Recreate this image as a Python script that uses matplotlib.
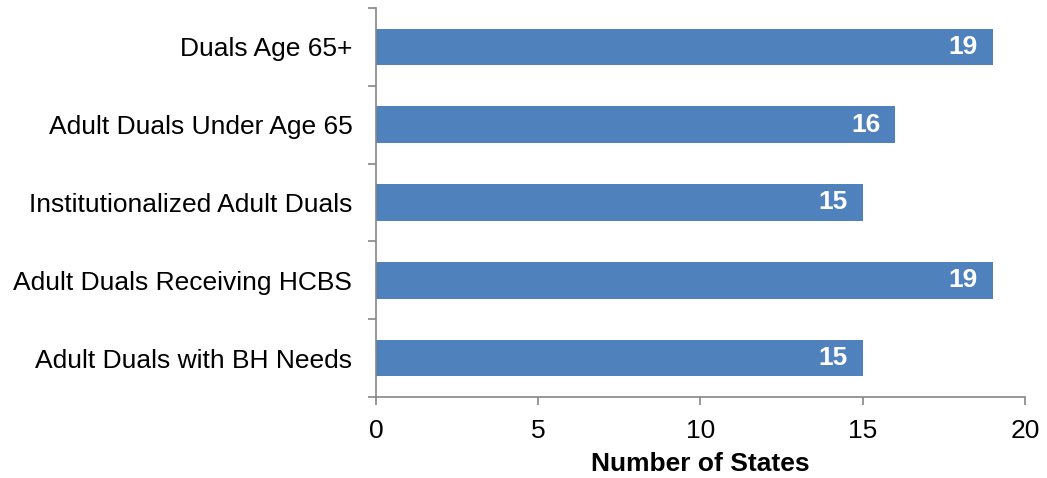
import numpy as np
import matplotlib
matplotlib.use("Agg")
import matplotlib.pyplot as plt

categories = ["Duals Age 65+", "Adult Duals Under Age 65", "Institutionalized Adult Duals",
              "Adult Duals Receiving HCBS", "Adult Duals with BH Needs"]
values = [19, 16, 15, 19, 15]

plt.rcParams['font.family'] = ['Liberation Sans', 'DejaVu Sans']

fig = plt.figure(figsize=(10.47, 4.78), dpi=100)
ax = fig.add_axes([0.359, 0.1695, 0.62, 0.814])

y = np.arange(len(categories))[::-1]
ax.barh(y, values, height=0.47, color='#4F81BD')
for yi, v in zip(y, values):
    ax.text(v - 0.45, yi, str(v), ha='right', va='center', color='white',
            fontsize=19, fontweight='bold')

ax.set_xlim(0, 20)
ax.set_ylim(-0.5, len(categories) - 0.5)
ax.set_xticks([0, 5, 10, 15, 20])
ax.set_yticks(y)
ax.set_yticklabels(categories)
ax.set_yticks(np.arange(-0.5, len(categories)), minor=True)
ax.tick_params(axis='y', which='major', length=0, pad=17, labelsize=19)
ax.tick_params(axis='y', which='minor', length=6, color='#868686', width=1.2)
ax.tick_params(axis='x', length=6, color='#868686', width=1.2, labelsize=19, pad=10)
for s in ['top', 'right']:
    ax.spines[s].set_visible(False)
for s in ['left', 'bottom']:
    ax.spines[s].set_color('#868686')
    ax.spines[s].set_linewidth(1.2)
ax.set_xlabel("Number of States", fontsize=19, fontweight='bold', labelpad=6)

fig.savefig("out.png", dpi=100)
